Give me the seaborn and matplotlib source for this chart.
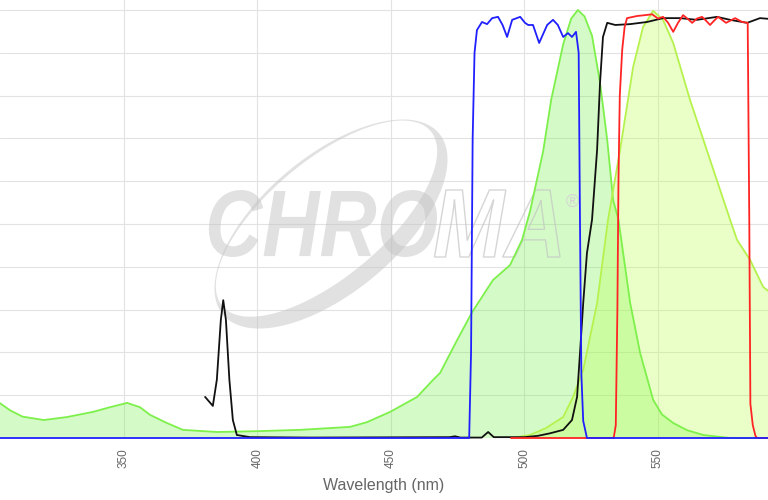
import numpy as np
import pandas as pd
import matplotlib
matplotlib.use("Agg")
import matplotlib.pyplot as plt
import seaborn as sns
from matplotlib.path import Path
from matplotlib.patches import PathPatch
from matplotlib.textpath import TextPath
from matplotlib.font_manager import FontProperties
from matplotlib.transforms import Affine2D

# excitation spectrum (light green fill)
ex_nm = [303, 307.3, 312, 320, 328.7, 338.4, 344.8, 351.2, 356, 359.8, 366.1, 372.1, 384.9,
         400, 416, 434.7, 441, 449.7, 459.8, 465.8, 468.4, 474.8, 480.4, 488.2, 494.6, 499.1,
         502.1, 507, 510, 514.5, 517.5, 520, 522.5, 525.3, 528.3, 531, 533.2, 535.2, 539.6,
         543.3, 548.2, 551.5, 555.7, 561, 567, 577, 592]
ex_val = [8.4, 6.5, 5.0, 4.2, 4.9, 6.1, 7.2, 8.2, 7.2, 5.4, 3.5, 1.9, 1.4,
          1.6, 1.9, 2.6, 3.7, 6.1, 9.6, 13.6, 15.2, 22.9, 29.4, 36.9, 40.4, 46.3,
          53.0, 67.0, 79.0, 92.0, 98.0, 100.0, 98.5, 94.0, 83.0, 69.6, 55.6, 51.0, 31.5,
          19.9, 8.9, 5.5, 3.5, 1.8, 0.7, 0.0, 0.0]

# emission spectrum (yellow-green fill)
em_nm = [495, 502.1, 508, 514.5, 518.2, 522, 527.2, 531.3, 535.8, 540.7, 544.4, 548.2,
         551.9, 555.7, 562, 569.5, 577, 579.6, 584.5, 589.4, 592]
em_val = [0.0, 0.7, 2.3, 4.9, 9.6, 15.9, 31.5, 51.0, 67.3, 86.7, 96.0, 99.8,
          97.7, 92.3, 79.0, 65.0, 51.0, 46.3, 41.6, 35.3, 34.0]

# dichroic (black)
di_nm = [380.4, 383.3, 384.8, 386.3, 387.2, 388.2, 389.5, 390.8, 392.3, 397.2, 420, 472,
         474, 476, 484, 486.4, 488.5, 500, 505, 509.6, 514.5, 517.8, 519.7, 520.8, 522,
         523.4, 525.3, 527.2, 528.3, 529.4, 531, 534, 539.6, 545.9, 551.9, 558.3, 564.6,
         572.1, 577, 583.4, 588.2, 592]
di_val = [9.6, 7.5, 13.6, 27.6, 32.2, 27.6, 13.6, 4.2, 0.7, 0.2, 0.1, 0.2,
          0.4, 0.1, 0.1, 1.4, 0.2, 0.2, 0.5, 1.1, 1.9, 4.2, 9.6, 19.9, 31.5,
          43.2, 51.0, 67.3, 83.0, 93.7, 97.0, 96.5, 96.7, 97.2, 98.1, 98.1, 97.7,
          98.4, 97.7, 97.0, 98.1, 97.9]

# emission filter (red)
emf_nm = [495, 533.4, 534.2, 534.8, 535.2, 535.7, 536.6, 537.5, 538.4, 542.2, 545.2, 547.8,
          550, 551.9, 553.8, 555.7, 557.5, 559.4, 561, 562.8, 564.6, 566.5, 568, 569.5,
          571, 572.5, 575.5, 578.9, 581.5, 583.6, 584.2, 584.6, 585.5, 586.5, 587.1, 592]
emf_val = [0.0, 0.0, 3.0, 30.0, 60.0, 80.0, 90.7, 96.0, 98.1, 98.6, 98.8, 99.0,
           98.0, 98.4, 97.0, 94.9, 97.0, 98.8, 98.0, 97.0, 98.0, 98.4, 97.5, 96.5,
           97.5, 98.4, 97.0, 98.1, 97.2, 97.0, 50.0, 8.0, 3.0, 0.5, 0.0, 0.0]

# excitation filter (blue)
exf_nm = [300, 479.3, 480, 480.6, 481.3, 482.2, 484.1, 486, 487.9, 490.1, 491.8, 493.5,
          495.4, 498.4, 500.2, 501.4, 503.2, 505.5, 508.5, 510.7, 512.5, 514.5, 516.3,
          517.8, 519.3, 520.3, 520.8, 521.3, 522, 523.4, 592]
exf_val = [0.0, 0.0, 20.0, 70.0, 90.0, 95.3, 97.2, 96.7, 98.1, 98.4, 96.5, 93.7,
           97.7, 98.4, 97.0, 96.5, 96.5, 92.3, 96.5, 97.7, 96.5, 93.7, 94.6,
           93.7, 94.9, 90.0, 50.0, 15.0, 4.0, 0.0, 0.0]

ticks = [350, 400, 450, 500, 550]

sns.set_style("whitegrid")
plt.rcParams["font.family"] = ["Liberation Sans", "DejaVu Sans"]

fig = plt.figure(figsize=(7.68, 5), dpi=100)
ax = fig.add_axes([0, 62 / 500, 1, 438 / 500])

ax.fill_between(ex_nm, ex_val, color="#73f548", alpha=0.3, lw=0, zorder=1)
ax.fill_between(em_nm, em_val, color="#bcff4b", alpha=0.3, lw=0, zorder=1)

# watermark, drawn in image pixel coords (y down)
px = Affine2D().scale(1, -1).translate(0, 500).scale(0.01) + fig.dpi_scale_trans
wm_col = "#c4c4c4"

t = np.linspace(0, 2 * np.pi, 200)
ang = np.deg2rad(-40)
u = np.array([np.cos(ang), np.sin(ang)])
v = np.array([-np.sin(ang), np.cos(ang)])
if v[0] < 0:
    v = -v
c = np.array([331, 224])
outer = c + np.outer(141 * np.cos(t), u) + np.outer(68 * np.sin(t), v)
c2 = c - 7 * v
inner = c2 + np.outer(136 * np.cos(t[::-1]), u) + np.outer(58 * np.sin(t[::-1]), v)
verts = np.vstack([outer, inner])
codes = ([Path.MOVETO] + [Path.LINETO] * 198 + [Path.CLOSEPOLY]) * 2
ax.add_patch(PathPatch(Path(verts, codes), facecolor=wm_col, edgecolor="none",
                       alpha=0.5, transform=px, zorder=1.5))

fp = FontProperties(family="Liberation Sans", weight="bold", style="italic")


def word(s, x0, x1, top, base):
    tp = TextPath((0, 0), s, size=1, prop=fp)
    vv = tp.vertices.copy()
    xmin, xmax = vv[:, 0].min(), vv[:, 0].max()
    ymin, ymax = vv[:, 1].min(), vv[:, 1].max()
    vv[:, 0] = x0 + (vv[:, 0] - xmin) / (xmax - xmin) * (x1 - x0)
    vv[:, 1] = base - (vv[:, 1] - ymin) / (ymax - ymin) * (base - top)
    return Path(vv, tp.codes)


ax.add_patch(PathPatch(word("CHRO", 205, 437, 190, 257), facecolor=wm_col,
                       edgecolor="none", alpha=0.5, transform=px, zorder=1.5))
ax.add_patch(PathPatch(word("MA", 433, 560, 190, 257), facecolor="none",
                       edgecolor=wm_col, lw=1.0, alpha=0.7, transform=px, zorder=1.5))
ax.text(572, 202, "®", transform=px, fontsize=13, color="#d4d4d4",
        ha="center", va="center", zorder=1.5)

lw = 1.3
sns.lineplot(x=ex_nm, y=ex_val, ax=ax, color="#7df04b", lw=lw, sort=False, estimator=None, zorder=2)
sns.lineplot(x=em_nm, y=em_val, ax=ax, color="#b6f24e", lw=lw, sort=False, estimator=None, zorder=2)
sns.lineplot(x=di_nm, y=di_val, ax=ax, color="#111111", lw=lw, sort=False, estimator=None, zorder=3)
sns.lineplot(x=emf_nm, y=emf_val, ax=ax, color="#ff2424", lw=lw, sort=False, estimator=None, zorder=3)
sns.lineplot(x=exf_nm, y=exf_val, ax=ax, color="#2020ff", lw=lw, sort=False, estimator=None, zorder=4)
for line in ax.lines:
    line.set_clip_on(False)

ax.set_xlim(303.6, 591.2)
ax.set_ylim(0, 100 * 438 / 428)
ax.set_xticks(ticks)
ax.set_yticks(np.arange(0, 101, 10))
ax.grid(color="#e2e2e2", lw=0.8)
ax.set_axisbelow(True)
for s in ax.spines.values():
    s.set_visible(False)
ax.tick_params(axis="y", labelleft=False, length=0)
ax.tick_params(axis="x", rotation=90, labelsize=8.5, labelcolor="#666666",
               length=6.5, width=0.8, color="#dddddd", pad=1)
ax.set_xlabel("Wavelength (nm)", fontsize=11.5, color="#666666", labelpad=7)
ax.set_ylabel("")

fig.savefig("out.png", dpi=100, facecolor="white")
